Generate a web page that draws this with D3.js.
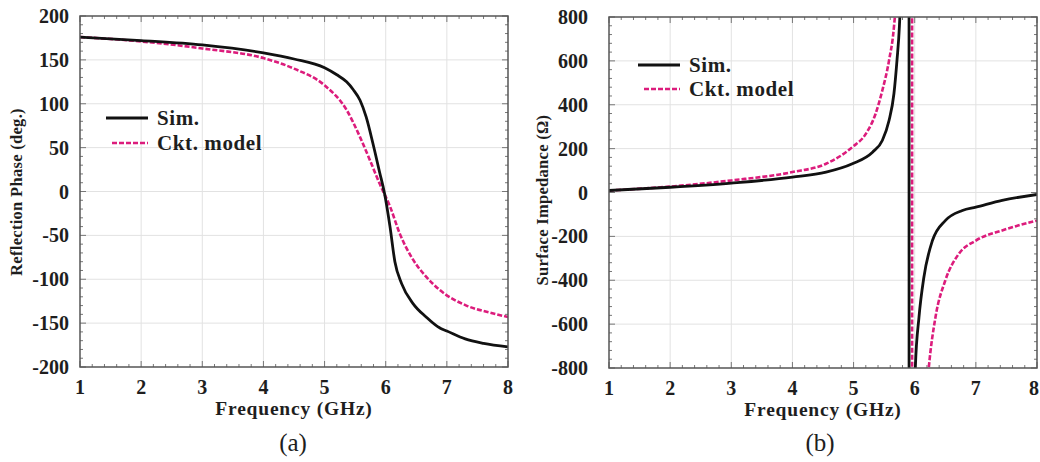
<!DOCTYPE html>
<html lang="en">
<head>
<meta charset="UTF-8">
<title>Reflection phase and surface impedance</title>
<script src="https://d3js.org/d3.v7.min.js"></script>
<style>
  body { margin: 0; background: #fff; }
  svg text { font-family: "Liberation Serif", "Times New Roman", Times, serif; }
</style>
</head>
<body>
<svg></svg>
<script>
// ---- data ----
const xTicks = [1, 2, 3, 4, 5, 6, 7, 8];
const phaseTicks = [200, 150, 100, 50, 0, -50, -100, -150, -200];
const impTicks = [800, 600, 400, 200, 0, -200, -400, -600, -800];
const seriesNames = ["Sim.", "Ckt. model"];

// (a) reflection phase, deg
const phaseSimF = [1, 2, 3, 4, 4.5, 5, 5.2, 5.36, 5.47, 5.58, 5.68, 5.79, 5.9, 5.98, 6.07, 6.15, 6.26, 6.45, 6.66, 6.85, 6.9, 7.0, 7.3, 7.6, 8];
const phaseSim  = [176, 172, 167, 158, 151, 141, 133, 125, 116, 104, 85, 55, 22, -2, -40, -80, -105, -128, -143, -154, -156, -159, -168, -173, -177];
const phaseCktF = [1, 2, 3, 4, 4.5, 5, 5.36, 5.58, 5.74, 5.9, 6.07, 6.23, 6.45, 6.66, 6.88, 7.32, 7.7, 8];
const phaseCkt  = [176, 171, 163, 152, 140, 121, 93, 62, 36, 9, -17, -48, -78, -97, -112, -130, -138, -143];

// (b) surface impedance, ohm
const impSimF = [1, 2, 3, 4, 4.55, 4.98, 5.31, 5.47, 5.58, 5.66, 5.71, 5.75, 5.8, 5.905, 5.91, 5.98, 6.01, 6.07, 6.15, 6.29, 6.5, 6.78, 7.0, 7.43, 8];
const impSim  = [9, 24, 43, 70, 93, 131, 184, 237, 328, 450, 602, 760, 1200, 6000, -6000, -1200, -800, -568, -386, -219, -128, -82, -67, -36, -9];
const impCktF = [1, 2, 3, 4, 4.55, 4.98, 5.2, 5.36, 5.47, 5.58, 5.66, 5.72, 5.955, 5.96, 6.15, 6.23, 6.34, 6.5, 6.72, 7.0, 7.43, 8];
const impCkt  = [9, 27, 55, 93, 131, 207, 267, 359, 465, 602, 754, 1000, 6000, -6000, -1100, -800, -568, -401, -280, -219, -173, -128];

const width = 1040, height = 462;
const svg = d3.select('svg').attr('width', width).attr('height', height);

const pink = '#dc1c7c';
const ink = '#1e1e1e';

function panel(opt) {
  const x = d3.scaleLinear().domain([1, 8]).range([opt.left, opt.right]);
  const y = d3.scaleLinear().domain(opt.yDomain).range([opt.bottom, opt.top]);
  const g = svg.append('g');

  // grid
  g.selectAll('.gx').data(xTicks.slice(1, -1)).join('line')
    .attr('x1', d => x(d)).attr('x2', d => x(d))
    .attr('y1', opt.top).attr('y2', opt.bottom)
    .attr('stroke', '#e2e2e2').attr('stroke-width', 1);
  g.selectAll('.gy').data(opt.yTicks.slice(1, -1)).join('line')
    .attr('x1', opt.left).attr('x2', opt.right)
    .attr('y1', d => y(d)).attr('y2', d => y(d))
    .attr('stroke', '#e2e2e2').attr('stroke-width', 1);

  // inward ticks on all four sides
  const xMinor = d3.range(1, 8.001, 0.2);
  const yStep = (opt.yTicks[0] - opt.yTicks[1]) / 5;
  const yMinor = d3.range(opt.yDomain[0], opt.yDomain[1] + 0.001, yStep);
  const tk = g.append('g').attr('stroke', '#777').attr('stroke-width', 1);
  xMinor.forEach(v => {
    const len = Math.abs(v - Math.round(v)) < 1e-6 ? 6 : 3;
    tk.append('line').attr('x1', x(v)).attr('x2', x(v)).attr('y1', opt.bottom).attr('y2', opt.bottom - len);
    tk.append('line').attr('x1', x(v)).attr('x2', x(v)).attr('y1', opt.top).attr('y2', opt.top + len);
  });
  yMinor.forEach((v, i) => {
    const len = i % 5 === 0 ? 6 : 3;
    tk.append('line').attr('y1', y(v)).attr('y2', y(v)).attr('x1', opt.left).attr('x2', opt.left + len);
    tk.append('line').attr('y1', y(v)).attr('y2', y(v)).attr('x1', opt.right).attr('x2', opt.right - len);
  });

  // curves
  const clipId = 'clip' + opt.id;
  svg.append('clipPath').attr('id', clipId).append('rect')
    .attr('x', opt.left).attr('y', opt.top)
    .attr('width', opt.right - opt.left).attr('height', opt.bottom - opt.top);
  const line = d3.line().x(d => x(d[0])).y(d => y(d[1])).curve(d3.curveMonotoneX);
  const cg = g.append('g').attr('clip-path', `url(#${clipId})`);
  cg.append('path').datum(d3.zip(opt.cktF, opt.ckt)).attr('d', line)
    .attr('fill', 'none').attr('stroke', pink).attr('stroke-width', 2.6)
    .attr('stroke-dasharray', '5,2');
  cg.append('path').datum(d3.zip(opt.simF, opt.sim)).attr('d', line)
    .attr('fill', 'none').attr('stroke', '#111').attr('stroke-width', 2.8);

  // frame
  g.append('rect').attr('x', opt.left).attr('y', opt.top)
    .attr('width', opt.right - opt.left).attr('height', opt.bottom - opt.top)
    .attr('fill', 'none').attr('stroke', '#555').attr('stroke-width', 1.5);

  // tick labels (last one kept inside the page edge)
  g.selectAll('.xl').data(xTicks).join('text')
    .attr('x', d => Math.min(x(d), width - 6)).attr('y', opt.bottom + 27)
    .attr('text-anchor', 'middle').attr('font-size', 20).attr('font-weight', 'bold')
    .attr('fill', ink).text(d => d);
  g.selectAll('.yl').data(opt.yTicks).join('text')
    .attr('x', opt.left - opt.yLabGap).attr('y', d => y(d) + 7)
    .attr('text-anchor', 'end').attr('font-size', 20).attr('font-weight', 'bold')
    .attr('fill', ink).text(d => d);

  // axis titles
  g.append('text').attr('x', (opt.left + opt.right) / 2).attr('y', opt.bottom + 48)
    .attr('text-anchor', 'middle').attr('font-size', 19.5).attr('font-weight', 'bold')
    .attr('letter-spacing', 0.8).attr('fill', ink).text('Frequency (GHz)');
  g.append('text')
    .attr('transform', `translate(${opt.yTitleX},${opt.yTitleY}) rotate(-90)`)
    .attr('text-anchor', 'middle').attr('font-size', 16.5).attr('font-weight', 'bold')
    .attr('letter-spacing', 0.3).attr('fill', ink).text(opt.yTitle);
  g.append('text').attr('x', opt.capX).attr('y', 451)
    .attr('text-anchor', 'middle').attr('font-size', 25).attr('fill', ink)
    .text(opt.caption);

  // legend
  const lg = g.append('g');
  seriesNames.forEach((name, i) => {
    const ly = opt.legY + i * opt.legGap;
    lg.append('line').attr('x1', opt.legX + (i === 0 ? 0 : 6)).attr('x2', opt.legX + 42)
      .attr('y1', ly).attr('y2', ly)
      .attr('stroke', i === 0 ? '#111' : pink).attr('stroke-width', i === 0 ? 3 : 2.6)
      .attr('stroke-dasharray', i === 0 ? null : '5,2');
    lg.append('text').attr('x', opt.legX + 51).attr('y', ly + 7)
      .attr('font-size', 21).attr('font-weight', 'bold').attr('letter-spacing', 0.6)
      .attr('fill', ink).text(name);
  });
}

panel({
  id: 'a', left: 80, right: 508, top: 16, bottom: 367,
  yDomain: [-200, 200], yTicks: phaseTicks, yLabGap: 11,
  simF: phaseSimF, sim: phaseSim, cktF: phaseCktF, ckt: phaseCkt,
  yTitle: 'Reflection Phase (deg.)', yTitleX: 22, yTitleY: 192,
  caption: '(a)', capX: 293, legX: 106, legY: 118, legGap: 25
});

panel({
  id: 'b', left: 609, right: 1037, top: 17, bottom: 368,
  yDomain: [-800, 800], yTicks: impTicks, yLabGap: 21,
  simF: impSimF, sim: impSim, cktF: impCktF, ckt: impCkt,
  yTitle: 'Surface Impedance (\u03a9)', yTitleX: 548, yTitleY: 200,
  caption: '(b)', capX: 820, legX: 638, legY: 65, legGap: 24
});
</script>
</body>
</html>
